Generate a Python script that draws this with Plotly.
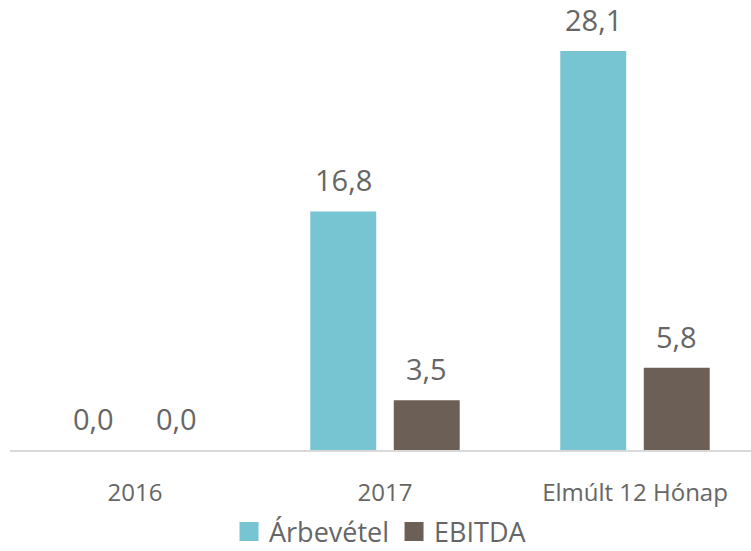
import plotly.graph_objects as go

categories = ["2016", "2017", "Elmúlt 12 Hónap"]
arbevetel = [0.0, 16.8, 28.1]
ebitda = [0.0, 3.5, 5.8]
series_names = ["Árbevétel", "EBITDA"]
colors = ["#77C4D3", "#6C5F56"]

BARGAP = 0.332
BARGROUPGAP = 0.21
FONT = "Open Sans"
TXT = "#666666"

def fmt(v):
    return f"{v:.1f}".replace(".", ",")

fig = go.Figure()
series = [arbevetel, ebitda]
n = len(series)
slot = (1 - BARGAP) / n
annotations = []
for k, (name, vals, col) in enumerate(zip(series_names, series, colors)):
    fig.add_trace(go.Bar(
        x=list(range(len(categories))), y=vals, name=name,
        marker=dict(color=col, line=dict(width=0)),
        showlegend=False, hoverinfo="skip",
    ))
    off = -(1 - BARGAP) / 2 + slot * (k + 0.5)
    for i, v in enumerate(vals):
        annotations.append(dict(
            x=i + off, y=v, xref="x", yref="y", text=fmt(v),
            showarrow=False, yanchor="bottom", xanchor="center", yshift=10,
            font=dict(size=29, color=TXT, family=FONT),
        ))
    # legend entry
    fig.add_trace(go.Scatter(
        x=[None], y=[None], mode="markers", name=name,
        marker=dict(symbol="square", size=16, color=col, line=dict(width=3, color=col)),
        showlegend=True,
    ))

fig.update_layout(
    width=751, height=551,
    margin=dict(l=10, r=0, t=0, b=101, autoexpand=False),
    paper_bgcolor="white", plot_bgcolor="white",
    barmode="group", bargap=BARGAP, bargroupgap=BARGROUPGAP,
    font=dict(family=FONT, color=TXT),
    annotations=annotations,
    legend=dict(orientation="h", x=0.5, xanchor="center", y=-0.182, yanchor="middle",
                font=dict(size=27, color=TXT, family=FONT),
                itemsizing="trace", traceorder="normal", itemwidth=30,
                tracegroupgap=0),
    xaxis=dict(
        tickmode="array", tickvals=list(range(len(categories))), ticktext=categories,
        range=[-0.5, 741 / 250 - 0.5],
        showline=True, linecolor="#D9D9D9", linewidth=1.5,
        showgrid=False, zeroline=False,
        ticks="outside", ticklen=20, tickcolor="rgba(0,0,0,0)",
        tickfont=dict(size=24, color=TXT, family=FONT),
    ),
    yaxis=dict(range=[0, 450 / 14.2], visible=False, showgrid=False, zeroline=False),
)

fig.write_html("out.html", config={"displayModeBar": False},
               post_script="document.body.style.margin='0';")
